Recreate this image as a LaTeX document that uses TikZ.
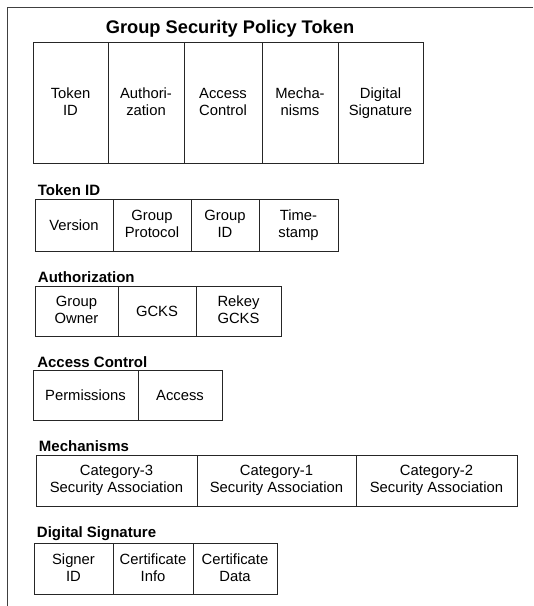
\documentclass[tikz,border=0pt]{standalone}
\usepackage{fontspec}
\setmainfont{Liberation Sans}
\usetikzlibrary{positioning}
\newcommand\cellstrut{\rule[-1.5pt]{0pt}{11pt}}
\tikzset{
	cell/.style={draw=black!85, line width=0.75pt, outer sep=0pt, inner sep=1pt, align=center,
		font=\fontsize{11.1}{12.75}\selectfont, execute at begin node=\cellstrut, execute at end node=\cellstrut},
	wide/.style={minimum width=#1*0.75pt},
	rowlabel/.style={anchor=base west, inner sep=0pt, font=\bfseries\fontsize{11.25}{13}\selectfont},
}

\begin{document}
\begin{tikzpicture}[x=0.75pt,y=-0.75pt]
	\useasboundingbox (0,0) rectangle (533,606);
	% frame
	\draw[black!75,line width=0.75pt] (533,8) -- (7.5,8) -- (7.5,606);
	% token
	\node[anchor=base, font=\bfseries\fontsize{13.7}{16}\selectfont] (title) at (230,34) {Group Security Policy Token};
	\begin{scope}[every node/.append style={cell, minimum height=90pt}]
		\node[anchor=north west, wide=75] (tid) at (33,43) {Token\\ID};
		\node[right=0pt of tid, wide=76] (auth) {Authori-\\zation};
		\node[right=0pt of auth, wide=78] (acc) {Access\\Control};
		\node[right=0pt of acc, wide=76] (mech) {Mecha-\\nisms};
		\node[right=0pt of mech, wide=85] (sig) {Digital\\Signature};
	\end{scope}
	% token id
	\begin{scope}[every node/.append style={cell, minimum height=39pt}]
		\node[anchor=north west, wide=78] (ver) at (35,199) {Version};
		\node[right=0pt of ver, wide=78] (proto) {Group\\Protocol};
		\node[right=0pt of proto, wide=68] (gid) {Group\\ID};
		\node[right=0pt of gid, wide=79] (stamp) {Time-\\stamp};
	\end{scope}
	\node[rowlabel] (tidlbl) at ([xshift=2pt,yshift=3pt]ver.north west) {Token ID};
	% authorization
	\begin{scope}[every node/.append style={cell, minimum height=37.5pt}]
		\node[anchor=north west, wide=83] (owner) at (35,286) {Group\\Owner};
		\node[right=0pt of owner, wide=78] (gcks) {GCKS};
		\node[right=0pt of gcks, wide=85] (rekey) {Rekey\\GCKS};
	\end{scope}
	\node[rowlabel] (authlbl) at ([xshift=2pt,yshift=3pt]owner.north west) {Authorization};
	% access control
	\begin{scope}[every node/.append style={cell, minimum height=37.5pt}]
		\node[anchor=north west, wide=105] (perm) at (33,370) {Permissions};
		\node[right=0pt of perm, wide=84] (access) {Access};
	\end{scope}
	\node[rowlabel] (acclbl) at ([xshift=3pt,yshift=2pt]perm.north west) {Access Control};
	% mechanisms
	\begin{scope}[every node/.append style={cell, minimum height=38.25pt}]
		\node[anchor=north west, wide=161] (cat3) at (36,455) {Category-3\\Security Association};
		\node[right=0pt of cat3, wide=159] (cat1) {Category-1\\Security Association};
		\node[right=0pt of cat1, wide=161] (cat2) {Category-2\\Security Association};
	\end{scope}
	\node[rowlabel] (mechlbl) at ([xshift=2pt,yshift=3pt]cat3.north west) {Mechanisms};
	% digital signature
	\begin{scope}[every node/.append style={cell, minimum height=38.25pt}]
		\node[anchor=north west, wide=79] (signer) at (34,543) {Signer\\ID};
		\node[right=0pt of signer, wide=80] (cinfo) {Certificate\\Info};
		\node[right=0pt of cinfo, wide=84] (cdata) {Certificate\\Data};
	\end{scope}
	\node[rowlabel] (siglbl) at ([xshift=2pt,yshift=4pt]signer.north west) {Digital Signature};
\end{tikzpicture}
\end{document}
